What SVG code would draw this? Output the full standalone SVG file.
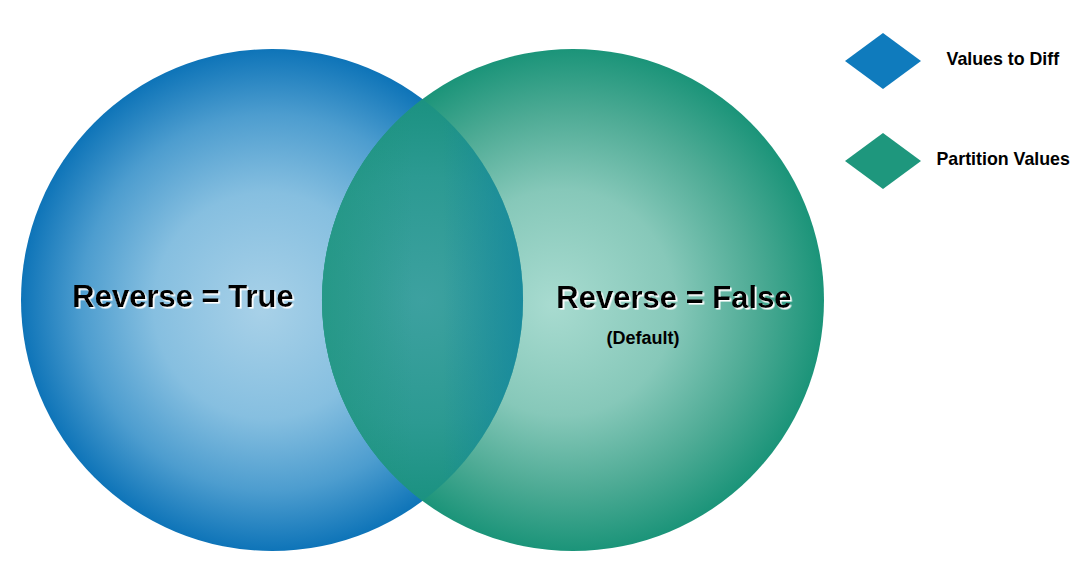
<svg xmlns="http://www.w3.org/2000/svg" width="1085" height="573" viewBox="0 0 1085 573">
  <style>
    .lbl { font-family: "Liberation Sans", Arial, sans-serif; font-weight: bold; fill: #000; }
    .big { font-size: 31px; filter: url(#wshadow); }
    .sub { font-size: 18px; }
    .leg { font-size: 17.8px; }
  </style>
  <defs>
    <filter id="wshadow" x="-5%" y="-20%" width="110%" height="150%">
      <feDropShadow dx="1.6" dy="1.6" stdDeviation="0.3" flood-color="#ffffff" flood-opacity="1"/>
    </filter>
    <radialGradient id="gBlue" gradientUnits="userSpaceOnUse" cx="272" cy="300" r="251" fx="262" fy="310">
      <stop offset="0" stop-color="#a8d1e8"/>
      <stop offset="0.45" stop-color="#86bfe0"/>
      <stop offset="0.75" stop-color="#4d9dcf"/>
      <stop offset="1" stop-color="#0e74b8"/>
    </radialGradient>
    <radialGradient id="gGreen" gradientUnits="userSpaceOnUse" cx="573" cy="300" r="251" fx="552" fy="305">
      <stop offset="0" stop-color="#a8dbd0"/>
      <stop offset="0.45" stop-color="#86c8b9"/>
      <stop offset="0.75" stop-color="#4eab95"/>
      <stop offset="1" stop-color="#1b9479"/>
    </radialGradient>
    <radialGradient id="gLens" gradientUnits="userSpaceOnUse" cx="422.5" cy="300" r="205">
      <stop offset="0" stop-color="#3da1a0"/>
      <stop offset="0.6" stop-color="#2c9a92"/>
      <stop offset="1" stop-color="#1a9180"/>
    </radialGradient>
    <linearGradient id="gLensTint" gradientUnits="userSpaceOnUse" x1="322" y1="0" x2="523" y2="0">
      <stop offset="0" stop-color="#1d957a" stop-opacity="0.5"/>
      <stop offset="0.45" stop-color="#1d957a" stop-opacity="0"/>
      <stop offset="0.6" stop-color="#1285a0" stop-opacity="0"/>
      <stop offset="1" stop-color="#1285a0" stop-opacity="0.75"/>
    </linearGradient>
  </defs>

  <g id="set-reverse-true">
    <circle cx="272" cy="300" r="251" fill="url(#gBlue)"/>
  </g>
  <g id="set-reverse-false">
    <circle cx="573" cy="300" r="251" fill="url(#gGreen)"/>
  </g>
  <g id="intersection">
    <path d="M422.5,99.1 A251,251 0 0 0 422.5,500.9 A251,251 0 0 0 422.5,99.1 Z" fill="url(#gLens)"/>
    <path d="M422.5,99.1 A251,251 0 0 0 422.5,500.9 A251,251 0 0 0 422.5,99.1 Z" fill="url(#gLensTint)"/>
  </g>

  <g id="labels">
    <text class="lbl big" x="183" y="307" text-anchor="middle">Reverse = True</text>
    <text class="lbl big" x="674" y="308" text-anchor="middle">Reverse = False</text>
    <text class="lbl sub" x="643" y="344" text-anchor="middle">(Default)</text>
  </g>

  <g id="legend-values-to-diff">
    <polygon points="883,33 921,61 883,89 845,61" fill="#0f7bbd"/>
    <text class="lbl leg" x="946.5" y="64.5">Values to Diff</text>
  </g>
  <g id="legend-partition-values">
    <polygon points="883,133 921,161 883,189 845,161" fill="#1e977d"/>
    <text class="lbl leg" x="936.5" y="164.5">Partition Values</text>
  </g>

  <g id="connectors"></g>
</svg>
